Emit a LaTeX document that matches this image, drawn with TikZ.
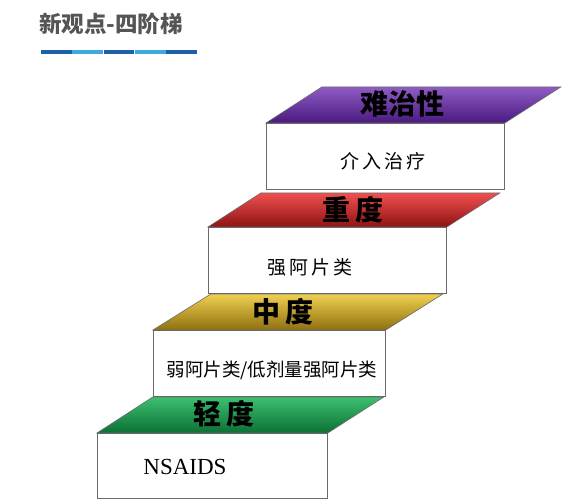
\documentclass[tikz,border=0pt]{standalone}
\usepackage{fontspec}
\setmainfont{Liberation Serif}
\newfontfamily\cjk{Noto Sans CJK SC}
\definecolor{titlegray}{HTML}{555555}
\definecolor{bardark}{HTML}{1F5FA8}
\definecolor{barlight}{HTML}{3DAAE0}
\definecolor{edgegray}{HTML}{6A6A6A}
\definecolor{purpT}{HTML}{8E5CC4}
\definecolor{purpB}{HTML}{4A1A80}
\definecolor{redT}{HTML}{F05050}
\definecolor{redB}{HTML}{8E1212}
\definecolor{goldT}{HTML}{F0D050}
\definecolor{goldB}{HTML}{8E7010}
\definecolor{grnT}{HTML}{3CC070}
\definecolor{grnB}{HTML}{0C7034}
\tikzset{
  stepbox/.style={draw=edgegray, line width=0.8pt, fill=white, anchor=north west, minimum width=238pt, minimum height=66pt, inner sep=0pt},
  tread/.style={draw=edgegray, line width=0.6pt},
  headtxt/.style={font=\cjk\bfseries\fontsize{28}{32}\selectfont, text=black, inner sep=0pt},
  bodytxt/.style={font=\cjk\fontsize{19}{22}\selectfont, text=black, inner sep=0pt},
  barseg/.style={inner sep=0pt, minimum height=4.5pt, minimum width=30.8pt, anchor=west},
}
\begin{document}
\begin{tikzpicture}[x=1pt,y=-1pt]
\useasboundingbox[fill=white] (0,0) rectangle (563,500);
% title
\node[anchor=west, inner sep=0pt, font=\cjk\bfseries\fontsize{22.5}{26}\selectfont, text=titlegray] (title) at (39,24) {新观点-四阶梯};
\node[barseg, fill=bardark] (s1) at (41,52) {};
\node[barseg, fill=barlight] (s2) at (s1.east) {};
\node[barseg, fill=bardark] (s3) at (s2.east) {};
\node[barseg, fill=barlight] (s4) at (s3.east) {};
\node[barseg, fill=bardark] (s5) at (s4.east) {};
% steps
\node[stepbox] (b1) at (266,123) {};
\shade[tread, top color=purpT, bottom color=purpB] (b1.north west) -- (b1.north east) -- ++(56,-36) -- ++(-239,0) -- cycle;
\node[stepbox] (b2) at (208,227) {};
\shade[tread, top color=redT, bottom color=redB] (b2.north west) -- (b2.north east) -- ++(53,-34) -- ++(-239,0) -- cycle;
\node[stepbox, minimum width=232pt] (b3) at (153,330) {};
\shade[tread, top color=goldT, bottom color=goldB] (b3.north west) -- (b3.north east) -- ++(57,-36) -- ++(-232,0) -- cycle;
\node[stepbox, minimum width=230pt, minimum height=65pt] (b4) at (97,433) {};
\shade[tread, top color=grnT, bottom color=grnB] (b4.north west) -- (b4.north east) -- ++(56,-36) -- ++(-231,0) -- cycle;
% headers
\node[headtxt] (h1) at (402,104) {难治性};
\node[headtxt] (h2) at (353,210) {重\,度};
\node[headtxt] (h3) at (283,312) {中\,度};
\node[headtxt] (h4) at (224,414) {轻\,度};
% body texts
\node[bodytxt] (t1) at (383,161) {介\,入\,治\,疗};
\node[bodytxt] (t2) at (310,267) {强\,阿\,片\,类};
\node[bodytxt, font=\cjk\fontsize{18.5}{22}\selectfont] (t3) at (272,370) {弱阿片类/低剂量强阿片类};
\node[inner sep=0pt, font=\fontsize{23}{26}\selectfont] (t4) at (185,467) {NSAIDS};
\end{tikzpicture}
\end{document}
